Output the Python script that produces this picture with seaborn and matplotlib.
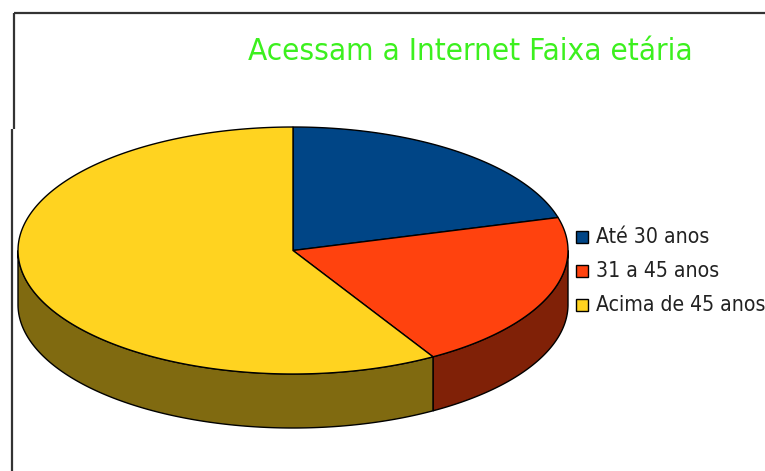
import numpy as np
import matplotlib
matplotlib.use("Agg")
import matplotlib.pyplot as plt
from matplotlib import font_manager
from matplotlib.patches import Rectangle
import seaborn as sns

# Share of internet users by age group (%)
categories = ["Até 30 anos", "31 a 45 anos", "Acima de 45 anos"]
shares = [20.7, 20.8, 58.5]
title = "Acessam a Internet Faixa etária"

sns.set_theme(style="white")
top_colors = sns.color_palette(["#004586", "#ff420e", "#ffd320"])
side_colors = [tuple(c * 0.5 for c in col) for col in top_colors]

available = {f.name for f in font_manager.fontManager.ttflist}
if "Liberation Sans Narrow" in available:
    font_kw = dict(family=["Liberation Sans Narrow", "DejaVu Sans"])
else:
    font_kw = dict(family=["DejaVu Sans"], stretch="condensed")

fig = plt.figure(figsize=(7.65, 4.71), dpi=100)
ax = fig.add_axes([0, 0, 1, 1])
ax.set_xlim(0, 765)
ax.set_ylim(471, 0)
ax.axis("off")

# frame lines around the chart area
ax.plot([14, 765], [13, 13], color="#333333", lw=1.6, solid_capstyle="butt")
ax.plot([14, 14], [13, 129], color="#333333", lw=1.6, solid_capstyle="butt")
ax.plot([12, 12], [129, 471], color="#333333", lw=1.6, solid_capstyle="butt")

# pie geometry (ellipse of the top face and extrusion depth)
cx, cy, ra, rb, depth = 293, 250.5, 275, 123.5, 54


def rim(t0, t1, n=200):
    t = np.radians(np.linspace(t0, t1, n))
    return cx + ra * np.cos(t), cy - rb * np.sin(t)


fractions = np.array(shares) / np.sum(shares)
starts = 90 - 360 * np.concatenate([[0], np.cumsum(fractions)[:-1]])
ends = starts - 360 * fractions

# side walls: only the front half (angles between -180 and 0) is visible
for s, e, col in zip(starts, ends, side_colors):
    lo, hi = max(e, -180), min(s, 0)
    if hi <= lo:
        continue
    x, y = rim(hi, lo)
    px = np.concatenate([x, x[::-1]])
    py = np.concatenate([y, y[::-1] + depth])
    ax.fill(px, py, facecolor=col, edgecolor="black", lw=1.0, zorder=2)

# top faces
for s, e, col in zip(starts, ends, top_colors):
    x, y = rim(s, e)
    px = np.concatenate([[cx], x, [cx]])
    py = np.concatenate([[cy], y, [cy]])
    ax.fill(px, py, facecolor=col, edgecolor="black", lw=1.0, zorder=3)

# title
ax.text(470, 51, title, color="#3cf01e", fontsize=22.6, ha="center", va="center",
        **font_kw)

# legend
for i, (lab, col) in enumerate(zip(categories, top_colors)):
    y = 237 + i * 34
    ax.add_patch(Rectangle((576, y - 6.5), 12, 12, facecolor=col,
                           edgecolor="black", lw=1.0, zorder=4))
    ax.text(596, y, lab, fontsize=15.2, ha="left", va="center", color="#222222",
            **font_kw)

fig.savefig("out.png", dpi=100)
